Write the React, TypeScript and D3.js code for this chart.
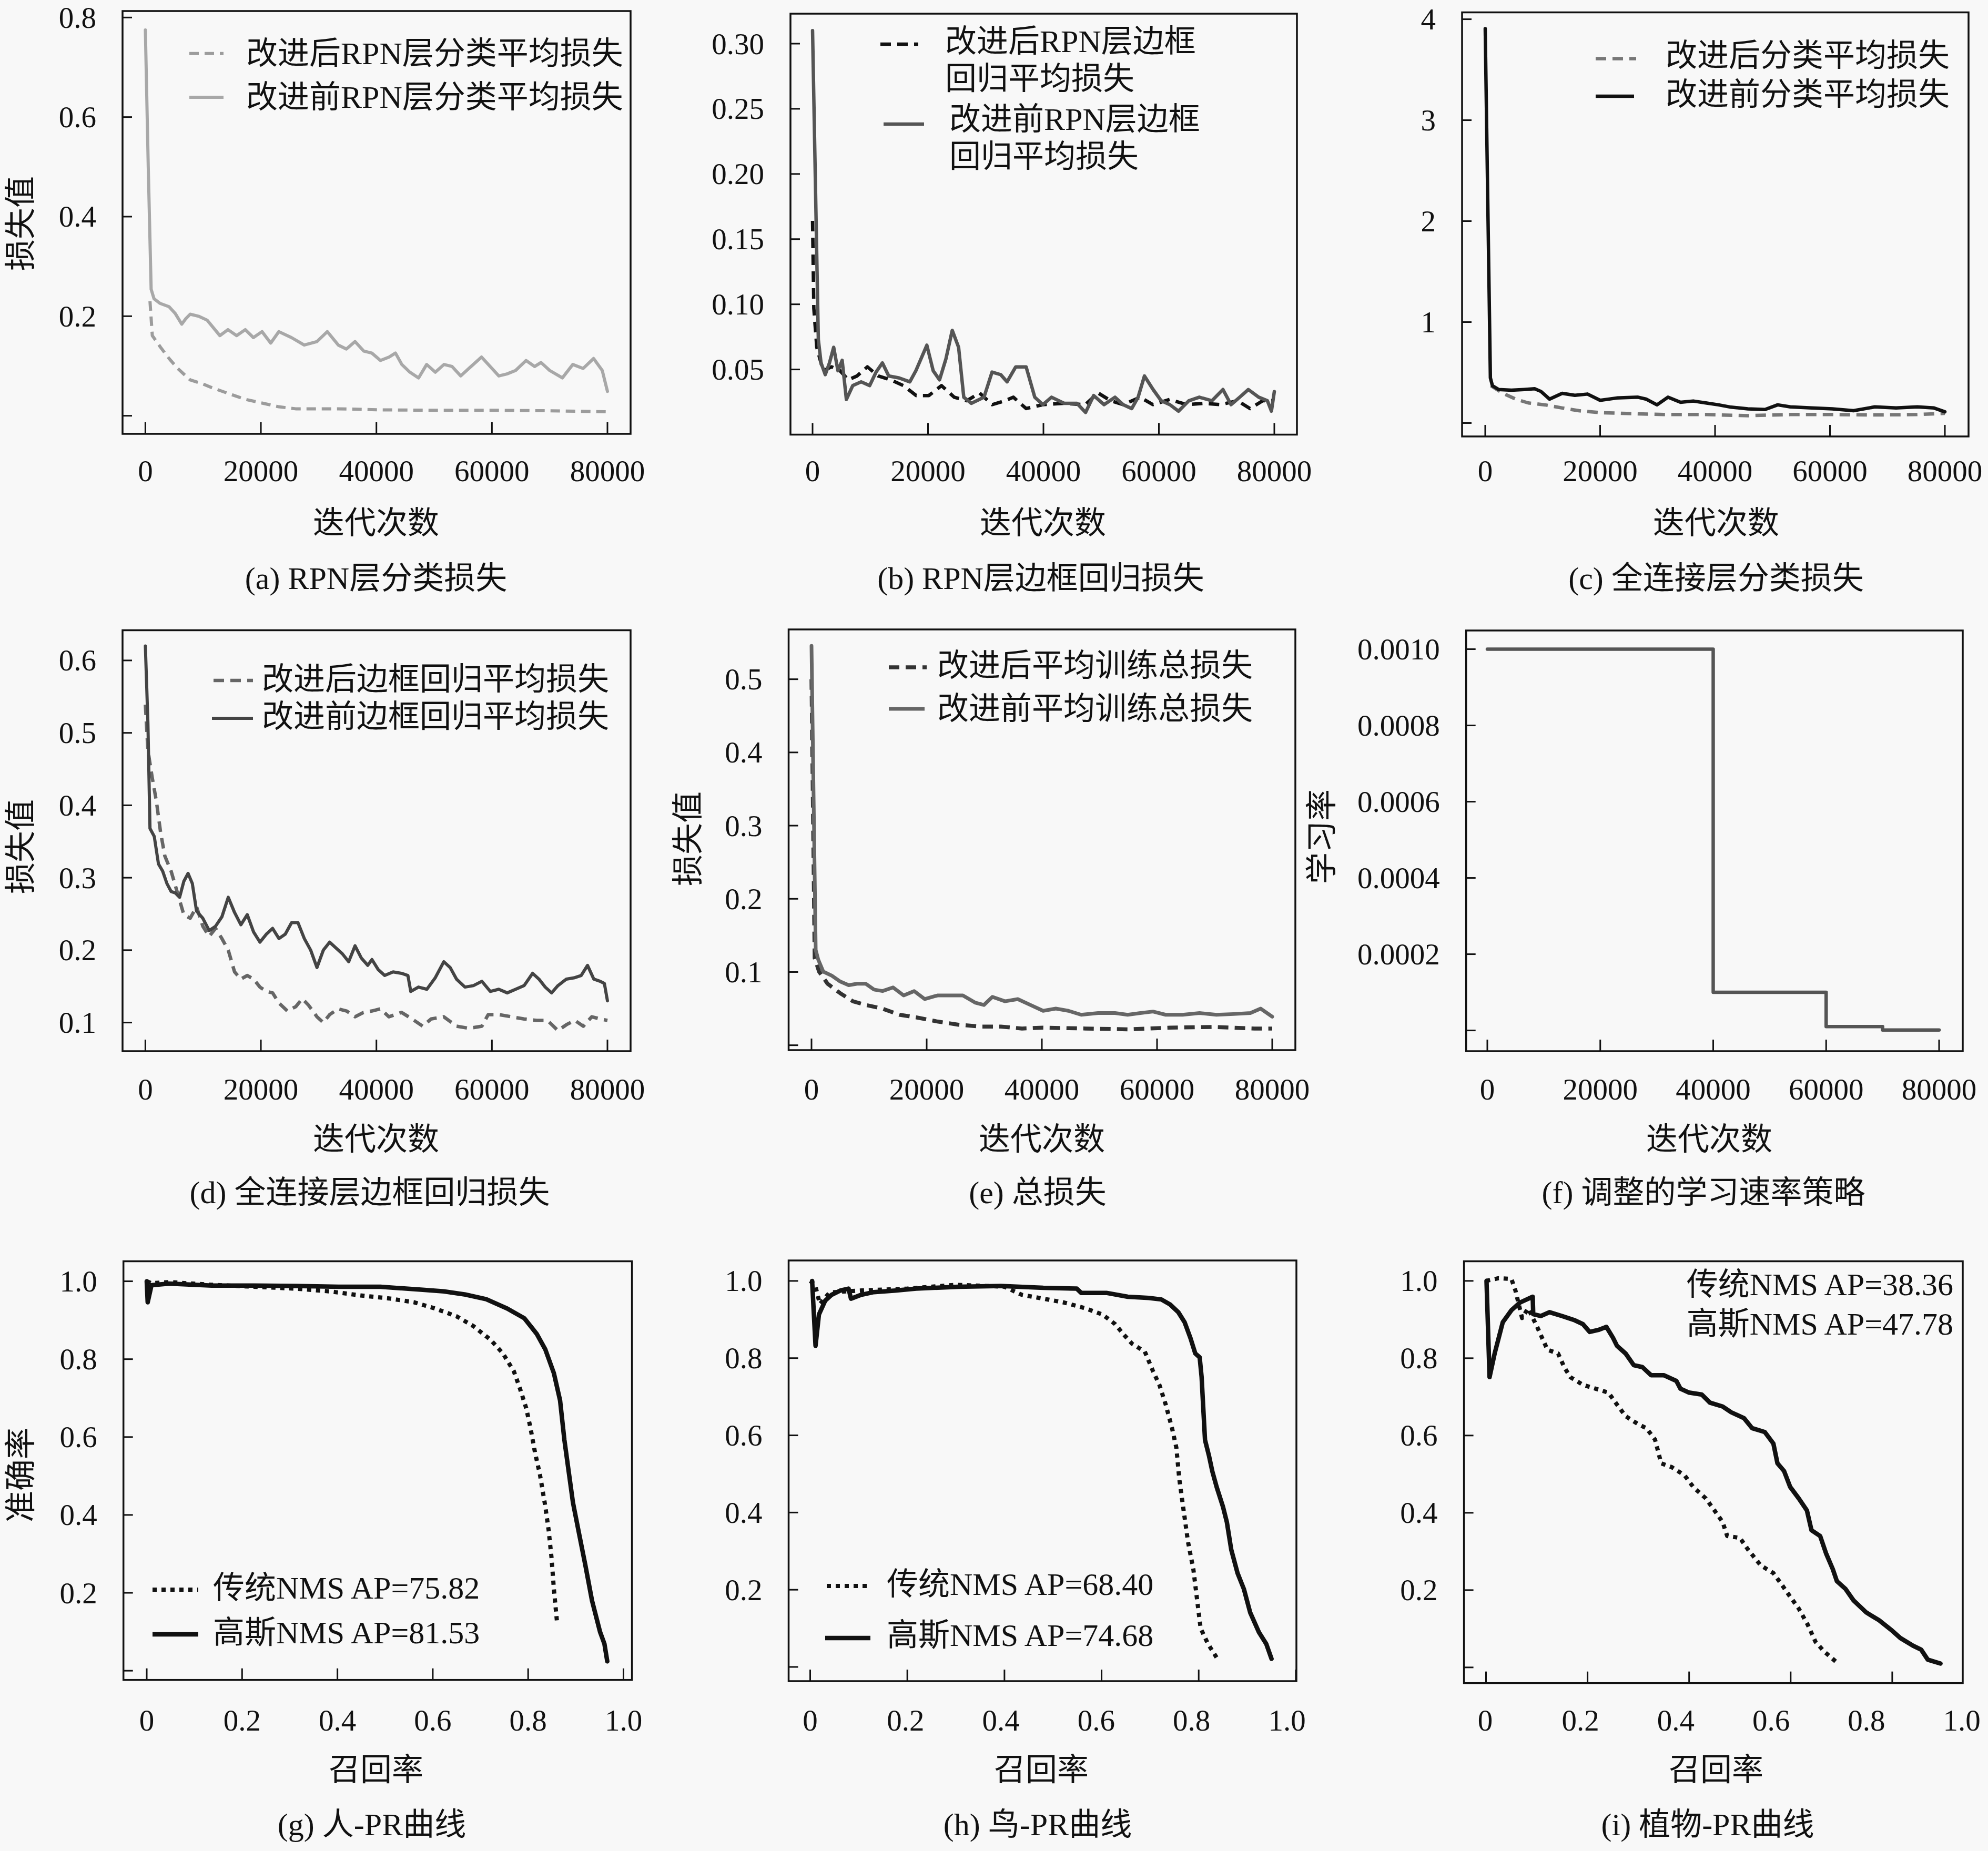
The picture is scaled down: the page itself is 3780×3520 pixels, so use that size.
import React from 'react';
import * as d3 from 'd3';

// ---------------- DATA ----------------
// (a) RPN classification loss
const aBeforeIter = [0, 500, 1000, 1500, 2500, 4100, 5200, 6300, 7000, 7760, 9200, 10700, 12900, 14300, 15800, 17300, 18700, 20200, 21700, 23100, 25300, 27500, 29700, 31500, 33400, 34800, 36300, 37800, 39200, 40700, 42200, 43300, 44400, 45800, 47300, 48700, 50200, 51700, 53100, 54600, 56000, 58200, 59700, 61200, 62600, 64100, 65900, 67400, 68500, 70000, 72200, 74000, 75800, 77600, 79100, 80000];
const aBeforeLoss = [0.775, 0.5, 0.254, 0.235, 0.226, 0.219, 0.205, 0.184, 0.195, 0.204, 0.2, 0.192, 0.161, 0.173, 0.161, 0.173, 0.157, 0.169, 0.146, 0.169, 0.157, 0.142, 0.149, 0.169, 0.142, 0.134, 0.149, 0.13, 0.126, 0.111, 0.118, 0.126, 0.103, 0.0875, 0.076, 0.103, 0.0875, 0.103, 0.099, 0.08, 0.095, 0.118, 0.099, 0.08, 0.084, 0.091, 0.111, 0.099, 0.107, 0.091, 0.076, 0.103, 0.095, 0.115, 0.091, 0.049];
const aAfterIter = [800, 1200, 2600, 4100, 5600, 7760, 9950, 11400, 14300, 17300, 20200, 23100, 26000, 33400, 40000, 50000, 60000, 70000, 80000];
const aAfterLoss = [0.23, 0.161, 0.138, 0.115, 0.095, 0.072, 0.064, 0.057, 0.045, 0.033, 0.0255, 0.018, 0.014, 0.014, 0.012, 0.011, 0.011, 0.01, 0.008];

// (b) RPN box regression loss
const bBeforeIter = [0, 1000, 1470, 2200, 2930, 3660, 4400, 5130, 5860, 6960, 8420, 9890, 11000, 12100, 13200, 15000, 16850, 17900, 19800, 20900, 22000, 23100, 24200, 25300, 26200, 27500, 29700, 31100, 32600, 33700, 35200, 37000, 38500, 39900, 41400, 43600, 45800, 47300, 48700, 50500, 52400, 53800, 55300, 56400, 57500, 59000, 60400, 61900, 63400, 65200, 67000, 69200, 71100, 72500, 74000, 75500, 77300, 78800, 79500, 80000];
const bBeforeLoss = [0.31, 0.073, 0.055, 0.046, 0.055, 0.067, 0.049, 0.057, 0.027, 0.0376, 0.0405, 0.0376, 0.048, 0.055, 0.045, 0.0435, 0.0405, 0.049, 0.0686, 0.049, 0.042, 0.058, 0.08, 0.067, 0.0287, 0.024, 0.0287, 0.048, 0.046, 0.0405, 0.052, 0.052, 0.0287, 0.023, 0.0287, 0.024, 0.024, 0.017, 0.03, 0.023, 0.0287, 0.023, 0.02, 0.0287, 0.045, 0.0346, 0.026, 0.023, 0.018, 0.026, 0.0287, 0.026, 0.0346, 0.023, 0.0287, 0.0346, 0.0287, 0.026, 0.018, 0.033];
const bAfterIter = [0, 220, 730, 1830, 3300, 4760, 6200, 7700, 9500, 11360, 13550, 15750, 17950, 20150, 22340, 24540, 26740, 28930, 31130, 33330, 34800, 37000, 39900, 43600, 47250, 49450, 51650, 53800, 56750, 58970, 61900, 64800, 67800, 70700, 73600, 75800, 78000, 80000];
const bAfterLoss = [0.164, 0.097, 0.067, 0.049, 0.052, 0.049, 0.042, 0.045, 0.052, 0.045, 0.042, 0.0376, 0.03, 0.03, 0.0376, 0.0287, 0.026, 0.032, 0.023, 0.026, 0.0287, 0.02, 0.023, 0.024, 0.023, 0.032, 0.026, 0.023, 0.0287, 0.023, 0.027, 0.023, 0.024, 0.023, 0.026, 0.02, 0.026, 0.026];

// (c) FC classification loss
const cBeforeIter = [0, 900, 1250, 2350, 4560, 6760, 8600, 9700, 11200, 13400, 15600, 17800, 20000, 22900, 26600, 28000, 29900, 31800, 34000, 36200, 38400, 40600, 42800, 45700, 48700, 50900, 53100, 56800, 60400, 64100, 67800, 71500, 75200, 78100, 80000];
const cBeforeLoss = [3.906, 0.447, 0.37, 0.332, 0.325, 0.332, 0.34, 0.313, 0.237, 0.294, 0.275, 0.287, 0.225, 0.248, 0.256, 0.237, 0.18, 0.256, 0.206, 0.218, 0.199, 0.18, 0.157, 0.141, 0.134, 0.18, 0.16, 0.149, 0.141, 0.122, 0.16, 0.149, 0.16, 0.149, 0.111];
const cAfterIter = [1000, 3100, 5300, 7500, 10400, 13400, 16300, 20000, 23700, 31000, 38400, 45700, 53100, 60400, 67800, 75200, 80000];
const cAfterLoss = [0.37, 0.294, 0.237, 0.199, 0.18, 0.149, 0.122, 0.103, 0.096, 0.084, 0.084, 0.073, 0.084, 0.084, 0.08, 0.084, 0.096];

// (d) FC box regression loss
const dBeforeIter = [0, 440, 800, 1540, 2270, 3000, 3730, 4460, 5200, 5930, 6660, 7390, 8130, 8860, 9950, 11050, 12150, 13250, 14350, 15440, 16540, 17640, 18740, 19840, 20940, 22030, 23130, 24220, 25320, 26420, 27520, 28620, 29710, 30810, 31910, 33000, 34100, 35200, 36300, 37400, 38500, 39230, 40330, 41430, 42890, 44350, 45450, 45950, 47280, 48740, 50200, 51670, 52770, 53870, 55330, 56790, 58260, 59720, 61190, 62650, 64110, 65570, 67040, 68140, 69230, 70330, 71430, 72890, 74350, 75450, 76550, 77640, 78740, 79470, 80000];
const dBeforeLoss = [0.62, 0.514, 0.368, 0.357, 0.319, 0.309, 0.292, 0.281, 0.279, 0.273, 0.295, 0.306, 0.292, 0.254, 0.244, 0.227, 0.233, 0.246, 0.273, 0.252, 0.235, 0.249, 0.225, 0.211, 0.222, 0.23, 0.216, 0.222, 0.238, 0.238, 0.216, 0.2, 0.176, 0.2, 0.211, 0.203, 0.195, 0.184, 0.206, 0.189, 0.179, 0.187, 0.173, 0.165, 0.17, 0.168, 0.165, 0.143, 0.149, 0.146, 0.162, 0.184, 0.176, 0.16, 0.149, 0.151, 0.157, 0.143, 0.146, 0.141, 0.146, 0.151, 0.168, 0.16, 0.149, 0.141, 0.151, 0.16, 0.162, 0.165, 0.179, 0.16, 0.157, 0.154, 0.13];
const dAfterIter = [0, 440, 1170, 1900, 2630, 3370, 4460, 5560, 6660, 7760, 8860, 9950, 11050, 12150, 13250, 14350, 15440, 16540, 17640, 18740, 19840, 20940, 22030, 23130, 24590, 26050, 27150, 28250, 29710, 30810, 31910, 33370, 34830, 36300, 37760, 39230, 40690, 42160, 44350, 46180, 48010, 49470, 51670, 53870, 56060, 58260, 59350, 61190, 63380, 65570, 67770, 69600, 71430, 72890, 74350, 75820, 77280, 78740, 80000];
const dAfterLoss = [0.539, 0.476, 0.439, 0.406, 0.363, 0.33, 0.309, 0.279, 0.249, 0.244, 0.26, 0.233, 0.219, 0.23, 0.216, 0.2, 0.17, 0.16, 0.165, 0.16, 0.149, 0.143, 0.141, 0.127, 0.116, 0.122, 0.133, 0.124, 0.108, 0.1, 0.111, 0.119, 0.116, 0.108, 0.114, 0.116, 0.119, 0.108, 0.114, 0.105, 0.095, 0.105, 0.108, 0.095, 0.092, 0.095, 0.111, 0.111, 0.108, 0.105, 0.103, 0.103, 0.089, 0.097, 0.103, 0.095, 0.108, 0.105, 0.103];

// (e) total loss
const eBeforeIter = [0, 730, 1170, 2050, 3520, 4990, 6460, 7930, 9400, 10860, 12330, 14160, 16000, 17830, 19670, 21870, 24070, 26280, 28480, 29940, 31410, 33610, 35820, 38020, 40220, 42420, 44620, 46830, 49760, 52700, 54900, 57100, 59300, 61500, 64440, 67380, 70310, 73250, 76200, 78000, 80000];
const eBeforeLoss = [0.5456, 0.13, 0.117, 0.1005, 0.095, 0.087, 0.082, 0.084, 0.084, 0.076, 0.074, 0.079, 0.068, 0.074, 0.063, 0.068, 0.068, 0.068, 0.058, 0.055, 0.066, 0.06, 0.063, 0.055, 0.047, 0.05, 0.047, 0.0416, 0.044, 0.044, 0.0416, 0.044, 0.046, 0.0416, 0.0416, 0.044, 0.0416, 0.0426, 0.044, 0.05, 0.039];
const eAfterIter = [0, 550, 1320, 2790, 4990, 7190, 9400, 12330, 15270, 18200, 21870, 25540, 29210, 32880, 36550, 40220, 47560, 54900, 62240, 69580, 76920, 80000];
const eAfterLoss = [0.5, 0.119, 0.1005, 0.084, 0.071, 0.06, 0.055, 0.05, 0.0416, 0.038, 0.0324, 0.028, 0.0255, 0.0255, 0.0228, 0.024, 0.0228, 0.0217, 0.024, 0.025, 0.0228, 0.0228];

// (f) learning-rate schedule
const fIter = [0, 40000, 60000, 70000, 80000];
const fRate = [0.001, 0.0001, 0.00001, 0.000001, 0.000001];

// (g) person PR
const gGaussRecall = [0, 0.002, 0.01, 0.047, 0.136, 0.224, 0.313, 0.402, 0.49, 0.579, 0.623, 0.668, 0.712, 0.756, 0.792, 0.818, 0.836, 0.854, 0.867, 0.876, 0.885, 0.894, 0.907, 0.92, 0.934, 0.951, 0.96, 0.966];
const gGaussPrec = [1.0, 0.946, 0.99, 0.994, 0.989, 0.989, 0.988, 0.986, 0.986, 0.978, 0.974, 0.966, 0.954, 0.93, 0.905, 0.865, 0.825, 0.764, 0.694, 0.593, 0.512, 0.432, 0.351, 0.271, 0.18, 0.099, 0.069, 0.024];
const gTradRecall = [0, 0.01, 0.047, 0.136, 0.224, 0.313, 0.384, 0.446, 0.508, 0.561, 0.605, 0.65, 0.685, 0.721, 0.747, 0.77, 0.783, 0.796, 0.805, 0.814, 0.825, 0.836, 0.843, 0.849, 0.854, 0.861];
const gTradPrec = [1.0, 0.995, 0.998, 0.991, 0.986, 0.981, 0.974, 0.964, 0.956, 0.946, 0.93, 0.91, 0.885, 0.85, 0.815, 0.769, 0.724, 0.674, 0.623, 0.563, 0.502, 0.422, 0.361, 0.291, 0.21, 0.119];

// (h) bird PR
const hGaussRecall = [0.004, 0.011, 0.018, 0.031, 0.044, 0.062, 0.079, 0.084, 0.105, 0.131, 0.175, 0.218, 0.306, 0.393, 0.48, 0.549, 0.558, 0.61, 0.654, 0.697, 0.723, 0.741, 0.758, 0.771, 0.783, 0.793, 0.802, 0.806, 0.809, 0.813, 0.821, 0.828, 0.837, 0.85, 0.858, 0.867, 0.88, 0.893, 0.906, 0.924, 0.939, 0.95];
const hGaussPrec = [1.0, 0.832, 0.913, 0.949, 0.964, 0.975, 0.98, 0.954, 0.964, 0.971, 0.975, 0.98, 0.985, 0.987, 0.982, 0.98, 0.969, 0.969, 0.959, 0.956, 0.952, 0.939, 0.919, 0.893, 0.852, 0.812, 0.802, 0.751, 0.68, 0.588, 0.548, 0.507, 0.466, 0.415, 0.375, 0.304, 0.243, 0.202, 0.141, 0.09, 0.06, 0.021];
const hTradRecall = [0, 0.01, 0.02, 0.04, 0.1, 0.2, 0.3, 0.4, 0.436, 0.48, 0.523, 0.567, 0.602, 0.628, 0.645, 0.663, 0.689, 0.706, 0.719, 0.732, 0.745, 0.754, 0.76, 0.769, 0.778, 0.789, 0.797, 0.804, 0.819, 0.837];
const hTradPrec = [1.0, 0.99, 0.94, 0.97, 0.975, 0.98, 0.99, 0.985, 0.964, 0.954, 0.944, 0.929, 0.913, 0.888, 0.862, 0.837, 0.817, 0.766, 0.731, 0.68, 0.619, 0.568, 0.487, 0.405, 0.324, 0.253, 0.171, 0.1, 0.06, 0.024];

// (i) plant PR
const iGaussRecall = [0.001, 0.007, 0.017, 0.033, 0.05, 0.067, 0.092, 0.093, 0.108, 0.125, 0.15, 0.175, 0.191, 0.204, 0.221, 0.237, 0.25, 0.258, 0.275, 0.291, 0.308, 0.325, 0.35, 0.375, 0.383, 0.4, 0.425, 0.441, 0.466, 0.483, 0.508, 0.524, 0.549, 0.566, 0.574, 0.587, 0.599, 0.616, 0.632, 0.641, 0.658, 0.67, 0.683, 0.691, 0.708, 0.724, 0.749, 0.774, 0.799, 0.816, 0.841, 0.857, 0.87, 0.895];
const iGaussPrec = [1.0, 0.751, 0.812, 0.893, 0.924, 0.944, 0.959, 0.914, 0.909, 0.919, 0.909, 0.898, 0.888, 0.868, 0.873, 0.881, 0.853, 0.832, 0.812, 0.782, 0.777, 0.756, 0.756, 0.741, 0.721, 0.711, 0.706, 0.685, 0.675, 0.66, 0.645, 0.619, 0.609, 0.579, 0.528, 0.508, 0.467, 0.437, 0.406, 0.355, 0.34, 0.294, 0.254, 0.223, 0.203, 0.173, 0.142, 0.122, 0.096, 0.076, 0.056, 0.046, 0.02, 0.01];
const iTradRecall = [0, 0.025, 0.05, 0.058, 0.071, 0.083, 0.1, 0.112, 0.121, 0.142, 0.154, 0.166, 0.191, 0.216, 0.241, 0.258, 0.275, 0.3, 0.316, 0.333, 0.345, 0.366, 0.391, 0.408, 0.433, 0.45, 0.466, 0.475, 0.5, 0.516, 0.541, 0.566, 0.583, 0.599, 0.616, 0.633, 0.649, 0.666, 0.689];
const iTradPrec = [1.0, 1.007, 1.005, 0.975, 0.904, 0.929, 0.883, 0.848, 0.822, 0.812, 0.777, 0.751, 0.731, 0.721, 0.711, 0.68, 0.65, 0.629, 0.619, 0.589, 0.528, 0.518, 0.497, 0.467, 0.437, 0.406, 0.376, 0.34, 0.335, 0.305, 0.264, 0.244, 0.213, 0.183, 0.152, 0.112, 0.066, 0.041, 0.015];

// ticks
const iterTicks = [0, 20000, 40000, 60000, 80000];
const recallTicks = [0, 0.2, 0.4, 0.6, 0.8, 1.0];
const aYTicks = [0, 0.2, 0.4, 0.6, 0.8];
const bYTicks = [0.05, 0.1, 0.15, 0.2, 0.25, 0.3];
const cYTicks = [0, 1, 2, 3, 4];
const dYTicks = [0.1, 0.2, 0.3, 0.4, 0.5, 0.6];
const eYTicks = [0, 0.1, 0.2, 0.3, 0.4, 0.5];
const fYTicks = [0, 0.0002, 0.0004, 0.0006, 0.0008, 0.001];
const prYTicks = [0, 0.2, 0.4, 0.6, 0.8, 1.0];

// ---------------- RENDERING ----------------
const FONT = "'Liberation Serif', 'Noto Sans CJK SC', serif";
const TXT = '#111';
const TFS = 60; // text font size
const NFS = 57; // tick number font size

type Series = { x: number[]; y: number[]; color: string; width: number; dash?: string };
type Legend = { lines: string[]; s: number; x1: number; x2: number; ly: number; tx: number; ty: number };
type Note = { text: string; x: number; y: number };
type PanelDef = {
  id: string;
  box: [number, number, number, number];
  xd: [number, number];
  xr: [number, number];
  lr?: [number, number];
  yd: [number, number];
  xTicks: number[];
  xFmt: (v: number) => string;
  yTicks: number[];
  yFmt: (v: number) => string;
  hideZeroLabel: boolean;
  step?: boolean;
  series: Series[];
  legend: Legend[];
  notes?: Note[];
  yTitle?: { text: string; x: number; y: number };
  xTitle: string;
  xTitleX: number;
  caption: string;
  captionX: number;
  rowY: [number, number, number];
};

const iterFmt = (v: number) => d3.format('d')(v);
const recFmt = (v: number) => (v === 0 ? '0' : v.toFixed(1));
const f1 = (v: number) => v.toFixed(1);
const f2 = (v: number) => v.toFixed(2);
const f0 = (v: number) => d3.format('d')(v);
const f4 = (v: number) => v.toFixed(4);

const ROW1: [number, number, number] = [895, 995, 1100];
const ROW2: [number, number, number] = [2071, 2167, 2268];
const ROW3: [number, number, number] = [3271, 3366, 3470];

const LW = 6.5;
const DASH = '20 12';

const panels: PanelDef[] = [
  {
    id: 'a', box: [233, 21, 1199, 825], xd: [0, 80000], xr: [276.4, 1155], yd: [-0.0363, 0.813],
    xTicks: iterTicks, xFmt: iterFmt, yTicks: aYTicks, yFmt: f1, hideZeroLabel: true,
    series: [
      { x: aAfterIter, y: aAfterLoss, color: '#9c9c9c', width: 6, dash: '18 11' },
      { x: aBeforeIter, y: aBeforeLoss, color: '#a8a8a8', width: 6 },
    ],
    legend: [
      { lines: ['改进后RPN层分类平均损失'], s: 0, x1: 360, x2: 425, ly: 101.7, tx: 468, ty: 101.7 },
      { lines: ['改进前RPN层分类平均损失'], s: 1, x1: 360, x2: 425, ly: 185, tx: 468, ty: 185 },
    ],
    yTitle: { text: '损失值', x: 40, y: 425 },
    xTitle: '迭代次数', xTitleX: 715, caption: '(a) RPN层分类损失', captionX: 715, rowY: ROW1,
  },
  {
    id: 'b', box: [1503, 26, 2466, 826.5], xd: [0, 80000], xr: [1545, 2423], yd: [0, 0.323],
    xTicks: iterTicks, xFmt: iterFmt, yTicks: bYTicks, yFmt: f2, hideZeroLabel: true,
    series: [
      { x: bAfterIter, y: bAfterLoss, color: '#111', width: LW, dash: DASH },
      { x: bBeforeIter, y: bBeforeLoss, color: '#555', width: LW },
    ],
    legend: [
      { lines: ['改进后RPN层边框', '回归平均损失'], s: 0, x1: 1674, x2: 1746, ly: 84, tx: 1797, ty: 79 },
      { lines: ['改进前RPN层边框', '回归平均损失'], s: 1, x1: 1680, x2: 1757, ly: 236, tx: 1805, ty: 227 },
    ],
    xTitle: '迭代次数', xTitleX: 1983, caption: '(b) RPN层边框回归损失', captionX: 1979, rowY: ROW1,
  },
  {
    id: 'c', box: [2780, 23.5, 3743, 830], xd: [0, 80000], xr: [2824, 3698], yd: [-0.133, 4.068],
    xTicks: iterTicks, xFmt: iterFmt, yTicks: cYTicks, yFmt: f0, hideZeroLabel: true,
    series: [
      { x: cAfterIter, y: cAfterLoss, color: '#777', width: LW, dash: DASH },
      { x: cBeforeIter, y: cBeforeLoss, color: '#111', width: LW },
    ],
    legend: [
      { lines: ['改进后分类平均损失'], s: 0, x1: 3034, x2: 3111, ly: 111.5, tx: 3167, ty: 106 },
      { lines: ['改进前分类平均损失'], s: 1, x1: 3034, x2: 3107, ly: 183, tx: 3167, ty: 180 },
    ],
    xTitle: '迭代次数', xTitleX: 3263, caption: '(c) 全连接层分类损失', captionX: 3263, rowY: ROW1,
  },
  {
    id: 'd', box: [233, 1198.5, 1199, 1999], xd: [0, 80000], xr: [276.4, 1155], yd: [0.0605, 0.6417],
    xTicks: iterTicks, xFmt: iterFmt, yTicks: dYTicks, yFmt: f1, hideZeroLabel: false,
    series: [
      { x: dAfterIter, y: dAfterLoss, color: '#666', width: LW, dash: DASH },
      { x: dBeforeIter, y: dBeforeLoss, color: '#444', width: 6 },
    ],
    legend: [
      { lines: ['改进后边框回归平均损失'], s: 0, x1: 406, x2: 481, ly: 1294, tx: 498, ty: 1292 },
      { lines: ['改进前边框回归平均损失'], s: 1, x1: 403, x2: 481, ly: 1366, tx: 498, ty: 1363 },
    ],
    yTitle: { text: '损失值', x: 40, y: 1610 },
    xTitle: '迭代次数', xTitleX: 715, caption: '(d) 全连接层边框回归损失', captionX: 703, rowY: ROW2,
  },
  {
    id: 'e', box: [1499.5, 1197, 2463, 1997], xd: [0, 80000], xr: [1543, 2419], yd: [-0.0067, 0.568],
    xTicks: iterTicks, xFmt: iterFmt, yTicks: eYTicks, yFmt: f1, hideZeroLabel: true,
    series: [
      { x: eAfterIter, y: eAfterLoss, color: '#333', width: 7.5, dash: DASH },
      { x: eBeforeIter, y: eBeforeLoss, color: '#666', width: 7 },
    ],
    legend: [
      { lines: ['改进后平均训练总损失'], s: 0, x1: 1690, x2: 1762, ly: 1269, tx: 1782, ty: 1266 },
      { lines: ['改进前平均训练总损失'], s: 1, x1: 1690, x2: 1758, ly: 1348, tx: 1782, ty: 1348 },
    ],
    yTitle: { text: '损失值', x: 1309, y: 1595 },
    xTitle: '迭代次数', xTitleX: 1981, caption: '(e) 总损失', captionX: 1973, rowY: ROW2,
  },
  {
    id: 'f', box: [2787.7, 1199, 3732, 1999], xd: [0, 80000], xr: [2828, 3687], yd: [-0.0000544, 0.001049],
    xTicks: iterTicks, xFmt: iterFmt, yTicks: fYTicks, yFmt: f4, hideZeroLabel: true, step: true,
    series: [{ x: fIter, y: fRate, color: '#555', width: 6.5 }],
    legend: [],
    yTitle: { text: '学习率', x: 2514, y: 1591 },
    xTitle: '迭代次数', xTitleX: 3250, caption: '(f) 调整的学习速率策略', captionX: 3239, rowY: ROW2,
  },
  {
    id: 'g', box: [234.7, 2398.5, 1201.6, 3194.7], xd: [0, 1], xr: [279, 1185.5], yd: [-0.0237, 1.0514],
    xTicks: recallTicks, xFmt: recFmt, yTicks: prYTicks, yFmt: f1, hideZeroLabel: true,
    series: [
      { x: gGaussRecall, y: gGaussPrec, color: '#111', width: 8.5 },
      { x: gTradRecall, y: gTradPrec, color: '#111', width: 8, dash: '8 9' },
    ],
    legend: [
      { lines: ['传统NMS AP=75.82'], s: 1, x1: 290, x2: 377, ly: 3023, tx: 405, ty: 3020 },
      { lines: ['高斯NMS AP=81.53'], s: 0, x1: 290, x2: 377, ly: 3108, tx: 405, ty: 3105 },
    ],
    yTitle: { text: '准确率', x: 40, y: 2805 },
    xTitle: '召回率', xTitleX: 715, caption: '(g) 人-PR曲线', captionX: 707, rowY: ROW3,
  },
  {
    id: 'h', box: [1499.5, 2397, 2465, 3197], xd: [0, 1], xr: [1540.5, 2463.9], lr: [1540.5, 2447], yd: [-0.0368, 1.053],
    xTicks: recallTicks, xFmt: recFmt, yTicks: prYTicks, yFmt: f1, hideZeroLabel: true,
    series: [
      { x: hGaussRecall, y: hGaussPrec, color: '#111', width: 8.5 },
      { x: hTradRecall, y: hTradPrec, color: '#111', width: 8, dash: '8 9' },
    ],
    legend: [
      { lines: ['传统NMS AP=68.40'], s: 1, x1: 1572, x2: 1654, ly: 3016, tx: 1686, ty: 3013 },
      { lines: ['高斯NMS AP=74.68'], s: 0, x1: 1569, x2: 1655, ly: 3115, tx: 1686, ty: 3110 },
    ],
    xTitle: '召回率', xTitleX: 1980, caption: '(h) 鸟-PR曲线', captionX: 1973, rowY: ROW3,
  },
  {
    id: 'i', box: [2783.6, 2398.5, 3732, 3200.7], xd: [0, 1], xr: [2825.5, 3791], lr: [2824, 3730], yd: [-0.0406, 1.0508],
    xTicks: recallTicks, xFmt: recFmt, yTicks: prYTicks, yFmt: f1, hideZeroLabel: true,
    series: [
      { x: iGaussRecall, y: iGaussPrec, color: '#111', width: 8.5 },
      { x: iTradRecall, y: iTradPrec, color: '#111', width: 8, dash: '8 9' },
    ],
    legend: [],
    notes: [
      { text: '传统NMS AP=38.36', x: 3714, y: 2443 },
      { text: '高斯NMS AP=47.78', x: 3714, y: 2518 },
    ],
    xTitle: '召回率', xTitleX: 3263, caption: '(i) 植物-PR曲线', captionX: 3247, rowY: ROW3,
  },
];

function Panel({ p }: { p: PanelDef }) {
  const [l, t, r, b] = p.box;
  const x = d3.scaleLinear().domain(p.xd).range(p.xr);
  const y = d3.scaleLinear().domain(p.yd).range([b, t]);
  const lx = p.lr ? d3.scaleLinear().domain(p.xd).range(p.lr) : x;
  const gen = d3
    .line<[number, number]>()
    .x((d) => x(d[0]))
    .y((d) => y(d[1]))
    .curve(p.step ? d3.curveStepAfter : d3.curveLinear);
  const clipId = `clip-${p.id}`;
  const [labY, titleY, capY] = p.rowY;
  return (
    <g>
      <defs>
        <clipPath id={clipId}>
          <rect x={l} y={t} width={r - l} height={b - t} />
        </clipPath>
      </defs>
      <g clipPath={`url(#${clipId})`}>
        {p.series.map((s, i) => {
          const n = Math.min(s.x.length, s.y.length);
          const pts: [number, number][] = d3.range(n).map((k) => [s.x[k], s.y[k]]);
          return (
            <path
              key={i}
              d={gen(pts) || ''}
              fill="none"
              stroke={s.color}
              strokeWidth={s.width}
              strokeDasharray={s.dash}
              strokeLinejoin="round"
              strokeLinecap={s.dash ? 'butt' : 'round'}
            />
          );
        })}
      </g>
      {p.xTicks.map((v) => {
        const xp = x(v);
        return xp <= r + 1 ? (
          <line key={`xt${v}`} x1={xp} x2={xp} y1={b} y2={b - 22} stroke="#111" strokeWidth={3} />
        ) : null;
      })}
      {p.xTicks.map((v) => (
        <text
          key={`xl${v}`}
          x={lx(v)}
          y={labY}
          textAnchor="middle"
          dominantBaseline="central"
          fontFamily={FONT}
          fontSize={NFS}
          fill={TXT}
        >
          {p.xFmt(v)}
        </text>
      ))}
      {p.yTicks.map((v) => (
        <line key={`yt${v}`} x1={l} x2={l + 18} y1={y(v)} y2={y(v)} stroke="#111" strokeWidth={3} />
      ))}
      {p.yTicks
        .filter((v) => !(p.hideZeroLabel && v === 0))
        .map((v) => (
          <text
            key={`yl${v}`}
            x={l - 50}
            y={y(v)}
            textAnchor="end"
            dominantBaseline="central"
            fontFamily={FONT}
            fontSize={NFS}
            fill={TXT}
          >
            {p.yFmt(v)}
          </text>
        ))}
      <rect x={l} y={t} width={r - l} height={b - t} fill="none" stroke="#111" strokeWidth={3.5} />
      {p.legend.map((e, i) => {
        const s = p.series[e.s];
        return (
          <g key={`lg${i}`}>
            <line
              x1={e.x1}
              x2={e.x2}
              y1={e.ly}
              y2={e.ly}
              stroke={s.color}
              strokeWidth={s.width}
              strokeDasharray={s.dash}
              strokeLinecap="butt"
            />
            {e.lines.map((tx, k) => (
              <text
                key={k}
                x={e.tx}
                y={e.ty + k * 71}
                dominantBaseline="central"
                fontFamily={FONT}
                fontSize={TFS}
                fill={TXT}
              >
                {tx}
              </text>
            ))}
          </g>
        );
      })}
      {(p.notes || []).map((nt, i) => (
        <text
          key={`nt${i}`}
          x={nt.x}
          y={nt.y}
          textAnchor="end"
          dominantBaseline="central"
          fontFamily={FONT}
          fontSize={TFS}
          fill={TXT}
        >
          {nt.text}
        </text>
      ))}
      {p.yTitle && (
        <text
          x={p.yTitle.x}
          y={p.yTitle.y}
          transform={`rotate(-90 ${p.yTitle.x} ${p.yTitle.y})`}
          textAnchor="middle"
          dominantBaseline="central"
          fontFamily={FONT}
          fontSize={TFS}
          fill={TXT}
        >
          {p.yTitle.text}
        </text>
      )}
      <text
        x={p.xTitleX}
        y={titleY}
        textAnchor="middle"
        dominantBaseline="central"
        fontFamily={FONT}
        fontSize={TFS}
        fill={TXT}
      >
        {p.xTitle}
      </text>
      <text
        x={p.captionX}
        y={capY}
        textAnchor="middle"
        dominantBaseline="central"
        fontFamily={FONT}
        fontSize={TFS}
        fill={TXT}
      >
        {p.caption}
      </text>
    </g>
  );
}

export default function App() {
  const W = 3780;
  const H = 3520;
  return (
    <svg
      width={W}
      height={H}
      viewBox={`0 0 ${W} ${H}`}
      style={{ position: 'absolute', left: 0, top: 0, display: 'block' }}
    >
      <rect x={0} y={0} width={W} height={H} fill="#f8f8f8" />
      {panels.map((p) => (
        <Panel key={p.id} p={p} />
      ))}
    </svg>
  );
}
